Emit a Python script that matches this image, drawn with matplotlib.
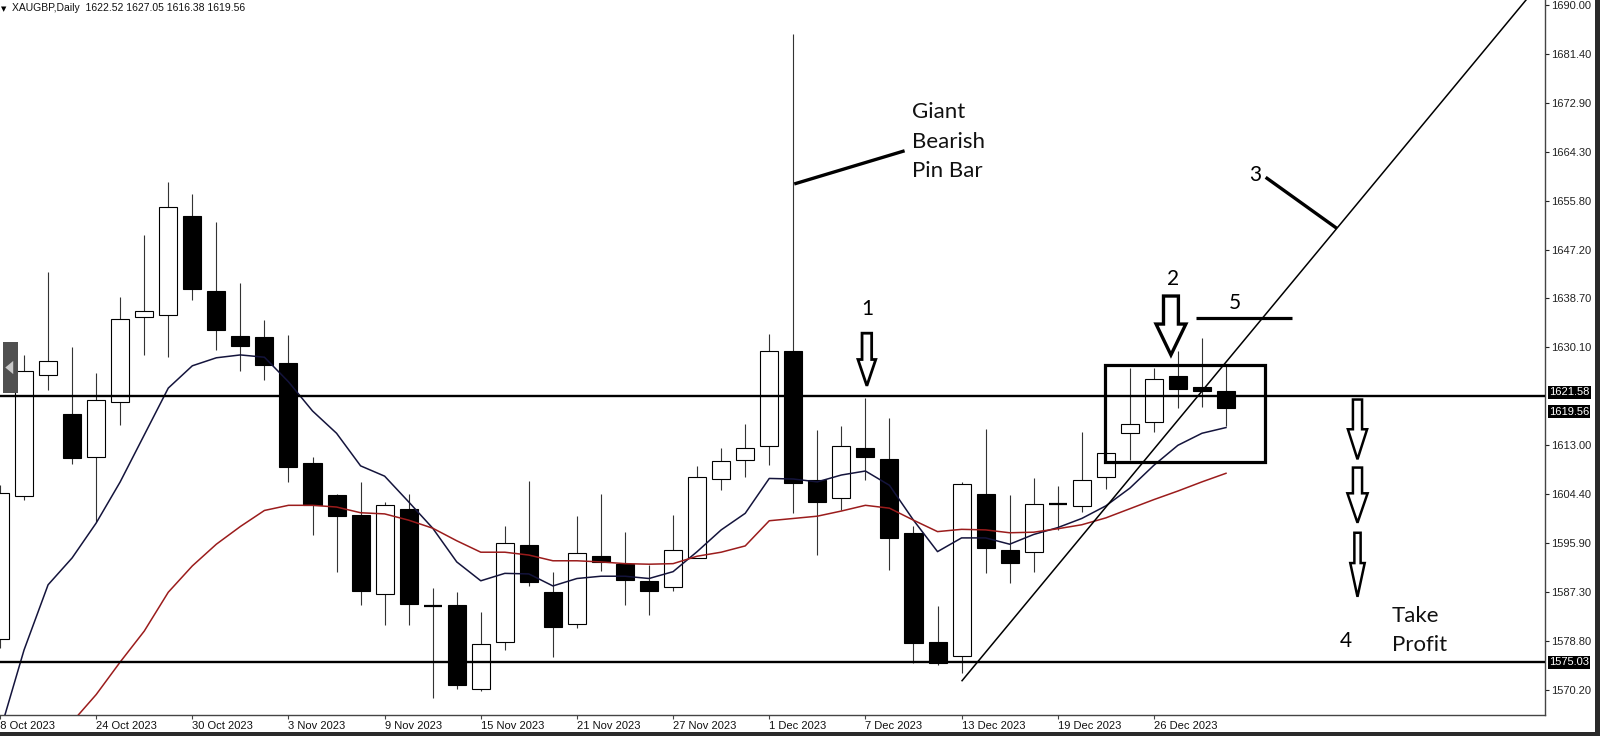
import numpy as np
import matplotlib.pyplot as plt
from matplotlib.patches import Polygon, Rectangle
from matplotlib.transforms import blended_transform_factory

# daily XAUGBP bars, 18 Oct 2023 .. 29 Dec 2023
dates = ["18 Oct 2023", "19 Oct 2023", "20 Oct 2023", "23 Oct 2023", "24 Oct 2023",
         "25 Oct 2023", "26 Oct 2023", "27 Oct 2023", "30 Oct 2023", "31 Oct 2023",
         "1 Nov 2023", "2 Nov 2023", "3 Nov 2023", "6 Nov 2023", "7 Nov 2023",
         "8 Nov 2023", "9 Nov 2023", "10 Nov 2023", "13 Nov 2023", "14 Nov 2023",
         "15 Nov 2023", "16 Nov 2023", "17 Nov 2023", "20 Nov 2023", "21 Nov 2023",
         "22 Nov 2023", "23 Nov 2023", "24 Nov 2023", "27 Nov 2023", "28 Nov 2023",
         "29 Nov 2023", "30 Nov 2023", "1 Dec 2023", "4 Dec 2023", "5 Dec 2023",
         "6 Dec 2023", "7 Dec 2023", "8 Dec 2023", "11 Dec 2023", "12 Dec 2023",
         "13 Dec 2023", "14 Dec 2023", "15 Dec 2023", "18 Dec 2023", "19 Dec 2023",
         "20 Dec 2023", "21 Dec 2023", "22 Dec 2023", "26 Dec 2023", "27 Dec 2023",
         "28 Dec 2023", "29 Dec 2023"]

opens = [1579.2, 1604.1, 1625.3, 1618.4, 1611.0, 1620.6, 1635.4, 1635.8, 1653.1, 1640.0,
         1632.1, 1632.0, 1627.4, 1609.9, 1604.3, 1600.8, 1587.0, 1601.8, 1584.9, 1585.1,
         1570.3, 1578.6, 1595.6, 1587.3, 1581.7, 1593.7, 1592.2, 1589.3, 1588.2, 1593.3,
         1607.1, 1610.4, 1612.8, 1629.5, 1606.9, 1603.7, 1612.5, 1610.6, 1597.7, 1578.6,
         1576.2, 1604.4, 1594.6, 1594.3, 1602.8, 1602.4, 1607.4, 1615.1, 1617.0, 1625.1,
         1623.2, 1622.52]
highs = [1606.0, 1628.8, 1643.3, 1630.2, 1625.6, 1639.0, 1649.7, 1659.0, 1656.9, 1652.0,
         1641.3, 1634.9, 1632.3, 1610.9, 1604.5, 1606.5, 1603.1, 1604.4, 1588.0, 1587.4,
         1583.9, 1598.8, 1606.8, 1590.8, 1600.6, 1604.5, 1597.9, 1592.1, 1600.8, 1609.3,
         1612.6, 1616.8, 1632.5, 1684.9, 1615.7, 1616.4, 1621.3, 1617.7, 1598.8, 1584.9,
         1606.6, 1615.8, 1604.3, 1607.3, 1605.8, 1615.3, 1611.9, 1626.5, 1626.5, 1629.5,
         1631.7, 1627.05]
lows = [1577.5, 1603.5, 1622.7, 1609.7, 1599.6, 1616.5, 1628.8, 1628.5, 1638.4, 1629.7,
        1626.0, 1624.5, 1606.5, 1597.3, 1590.9, 1585.1, 1581.6, 1581.6, 1568.8, 1570.4,
        1570.1, 1577.2, 1588.4, 1575.9, 1581.1, 1591.1, 1585.1, 1583.3, 1587.6, 1593.2,
        1605.2, 1607.5, 1609.6, 1601.1, 1593.8, 1601.7, 1606.9, 1591.2, 1574.9, 1574.6,
        1573.1, 1590.6, 1589.0, 1590.9, 1598.2, 1601.4, 1605.3, 1610.4, 1615.4, 1619.6,
        1619.7, 1616.38]
closes = [1604.6, 1626.0, 1627.8, 1610.7, 1621.0, 1635.0, 1636.4, 1654.6, 1640.3, 1633.2,
          1630.4, 1627.0, 1609.2, 1602.5, 1600.7, 1587.6, 1602.5, 1585.2, 1584.9, 1571.0,
          1578.2, 1595.9, 1589.1, 1581.3, 1594.1, 1592.5, 1589.4, 1587.6, 1594.7, 1607.5,
          1610.3, 1612.6, 1629.5, 1606.4, 1603.1, 1612.8, 1611.0, 1596.7, 1578.5, 1574.9,
          1606.2, 1595.0, 1592.4, 1602.7, 1602.8, 1606.9, 1611.7, 1616.8, 1624.6, 1622.8,
          1622.5, 1619.56]

# moving averages as drawn on the chart
ma_fast = [1562.9, 1577.2, 1588.6, 1593.3, 1599.4, 1606.6, 1614.8, 1623.0, 1626.9, 1628.3,
           1628.8, 1628.4, 1624.1, 1619.0, 1615.1, 1609.4, 1607.6, 1603.1, 1598.5, 1592.6,
           1589.3, 1590.6, 1590.5, 1588.4, 1589.7, 1590.1, 1590.1, 1589.7, 1590.9, 1594.4,
           1598.2, 1601.1, 1607.2, 1607.1, 1606.6, 1607.8, 1608.5, 1606.0, 1599.9, 1594.4,
           1596.8, 1596.8, 1595.7, 1597.4, 1598.6, 1600.2, 1602.4, 1605.5, 1609.5, 1613.0,
           1615.1, 1616.1]
ma_slow = [np.nan, np.nan, np.nan, 1564.6, 1569.4, 1575.1, 1580.5, 1587.3, 1591.9, 1595.7,
           1598.8, 1601.6, 1602.5, 1602.5, 1602.2, 1601.2, 1601.0, 1599.9, 1598.5, 1596.3,
           1594.3, 1594.3, 1593.8, 1592.8, 1592.8, 1592.6, 1592.3, 1592.2, 1592.3, 1593.6,
           1594.3, 1595.4, 1599.8, 1600.2, 1600.6, 1601.5, 1602.5, 1602.0, 1599.9, 1597.9,
           1598.3, 1598.2, 1597.7, 1597.8, 1598.4, 1599.1, 1600.3, 1601.9, 1603.5, 1605.0,
           1606.6, 1608.1]

price_ticks = [1690.00, 1681.40, 1672.90, 1664.30, 1655.80, 1647.20, 1638.70, 1630.10,
               1613.00, 1604.40, 1595.90, 1587.30, 1578.80, 1570.20]
resistance = 1621.58
support = 1575.03
last_close = 1619.56

ANNOT_FONT = ["Lato", "DejaVu Sans"]
AXIS_FONT = ["Liberation Sans", "DejaVu Sans"]


def hollow_arrow(ax, x, top, base, tip, stem_hw, head_hw, lw):
    pts = [(x - stem_hw, top), (x + stem_hw, top), (x + stem_hw, base),
           (x + head_hw, base), (x, tip), (x - head_hw, base), (x - stem_hw, base)]
    ax.add_patch(Polygon(pts, closed=True, facecolor="white", edgecolor="black",
                         linewidth=lw, joinstyle="miter", zorder=7))


fig = plt.figure(figsize=(16, 7.36), dpi=100)
fig.patch.set_facecolor("white")
ax = fig.add_axes([0, 1 - 715 / 736, 1545 / 1600, 715 / 736])

n = len(dates)
x = np.arange(n)
o = np.array(opens)
h = np.array(highs)
l = np.array(lows)
c = np.array(closes)

# candles
ax.vlines(x, l, h, color="#333333", linewidth=0.8, zorder=1)
body_w = 0.75
for i in range(n):
    if abs(c[i] - o[i]) < 0.05:
        ax.hlines(o[i], i - body_w / 2, i + body_w / 2, color="black", linewidth=1.6, zorder=2)
        continue
    bull = c[i] > o[i]
    ax.add_patch(Rectangle((i - body_w / 2, min(o[i], c[i])), body_w, abs(c[i] - o[i]),
                           facecolor="white" if bull else "black",
                           edgecolor="black", linewidth=0.8, zorder=2))

# moving averages
ax.plot(x, ma_fast, color="#14143c", linewidth=1.1, zorder=3)
ax.plot(x, ma_slow, color="#9b1c1c", linewidth=1.1, zorder=3)

# horizontal levels
ax.axhline(resistance, color="black", linewidth=1.7, zorder=4)
ax.axhline(support, color="black", linewidth=1.7, zorder=4)

# trendline (3)
ax.plot([40.02, 65.0], [1571.83, 1571.83 + 5.074 * (65.0 - 40.02)], color="black",
        linewidth=1.1, zorder=5)

# giant bearish pin bar label
ax.plot([33.04, 37.63], [1658.7, 1664.5], color="black", linewidth=2.4,
        solid_capstyle="butt", zorder=6)
ax.text(37.94, 1666.1, "Giant\nBearish\nPin Bar", fontsize=16, family=ANNOT_FONT,
        ha="left", va="center", linespacing=1.6, color="#111111", zorder=8)

# 1
ax.text(36.1, 1636.9, "1", fontsize=15, family=ANNOT_FONT, ha="center", va="center")
hollow_arrow(ax, 36.06, 1632.6, 1628.0, 1623.4, 0.2, 0.37, 2.0)

# 2
ax.text(48.78, 1642.0, "2", fontsize=15, family=ANNOT_FONT, ha="center", va="center")
hollow_arrow(ax, 48.71, 1639.1, 1634.2, 1628.8, 0.31, 0.62, 2.4)

# box around consolidation
ax.add_patch(Rectangle((45.98, 1610.02), 52.61 - 45.98, 1627.04 - 1610.02,
                       facecolor="none", edgecolor="black", linewidth=2.3, zorder=6))

# 5
ax.text(51.37, 1637.8, "5", fontsize=15, family=ANNOT_FONT, ha="center", va="center")
ax.plot([49.74, 53.76], [1635.2, 1635.2], color="black", linewidth=2.3,
        solid_capstyle="butt", zorder=6)

# 3
ax.text(52.23, 1660.3, "3", fontsize=15, family=ANNOT_FONT, ha="center", va="center")
ax.plot([52.65, 55.61], [1659.86, 1650.94], color="black", linewidth=2.4,
        solid_capstyle="butt", zorder=6)

# down arrows towards target
hollow_arrow(ax, 56.47, 1621.0, 1615.8, 1610.55, 0.19, 0.40, 1.8)
hollow_arrow(ax, 56.47, 1609.1, 1604.6, 1599.45, 0.19, 0.42, 1.8)
hollow_arrow(ax, 56.47, 1597.7, 1592.4, 1586.5, 0.13, 0.30, 1.8)

# 4 / take profit
ax.text(56.0, 1578.8, "4", fontsize=15, family=ANNOT_FONT, ha="center", va="center")
ax.text(57.9, 1580.6, "Take\nProfit", fontsize=16, family=ANNOT_FONT, ha="left",
        va="center", linespacing=1.55, color="#111111")

# collapsed-panel tab on the left edge
ax.add_patch(Rectangle((0.13, 1622.1), 0.63, 9.0, facecolor="#505050", edgecolor="none",
                       zorder=9, clip_on=False))
ax.add_patch(Polygon([(0.22, 1626.6), (0.55, 1627.75), (0.55, 1625.45)], closed=True,
                     facecolor="#c8c8c8", edgecolor="none", zorder=10, clip_on=False))

# axes / scales
ax.set_xlim(0.137, 64.27)
ax.set_ylim(1565.83, 1690.87)
ax.set_facecolor("white")
for side in ("top", "left"):
    ax.spines[side].set_visible(False)
for side in ("bottom", "right"):
    ax.spines[side].set_color("#444444")
    ax.spines[side].set_linewidth(1.0)

ax.yaxis.tick_right()
ax.set_yticks(price_ticks)
ax.set_yticklabels([f"{p:.2f}" for p in price_ticks], family=AXIS_FONT, fontsize=8)
ax.tick_params(axis="y", length=3, width=0.8, pad=1.5, colors="#222222")

tick_idx = list(range(0, n, 4))
ax.set_xticks(tick_idx)
ax.set_xticklabels([])
ax.tick_params(axis="x", length=3, width=0.8, colors="#444444")
xtrans = blended_transform_factory(ax.transData, ax.transAxes)
for i in tick_idx:
    # first label sits half off the left edge, as in the terminal
    xi = i - 0.25 if i == 0 else i
    ax.text(xi, -0.008, dates[i], transform=xtrans, ha="left", va="top", fontsize=8,
            family=AXIS_FONT, color="#111111", clip_on=False)

# price tags on the right scale
ytrans = blended_transform_factory(ax.transAxes, ax.transData)
for val, dy in [(resistance, 0.7), (last_close, -0.7), (support, 0)]:
    ax.text(1.0025, val + dy, f"{val:.2f}", transform=ytrans, ha="left", va="center",
            fontsize=8, family=AXIS_FONT, color="white", clip_on=False,
            bbox=dict(boxstyle="square,pad=0.12", facecolor="black", edgecolor="none"))

# header
fig.text(0.0005, 1 - 9 / 736, "\u25bc", fontsize=5, family="DejaVu Sans", va="center",
         ha="left")
fig.text(12 / 1600, 1 - 8 / 736, "XAUGBP,Daily  1622.52 1627.05 1616.38 1619.56",
         fontsize=7.5, family=AXIS_FONT, va="center", ha="left", color="#111111")

# terminal window frame
fig.add_artist(Rectangle((1595 / 1600, 0), 5 / 1600, 1, transform=fig.transFigure,
                         facecolor="#2a2a2a", edgecolor="none"))
fig.add_artist(Rectangle((0, 0), 1, 4 / 736, transform=fig.transFigure,
                         facecolor="#2a2a2a", edgecolor="none"))

fig.savefig("out.png", dpi=100)
